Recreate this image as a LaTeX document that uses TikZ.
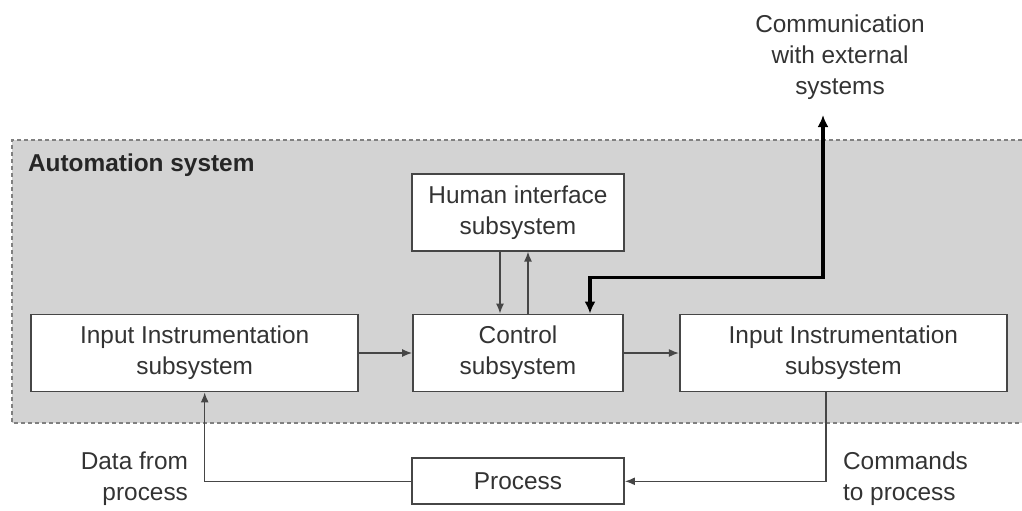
\documentclass[tikz,border=0pt]{standalone}
\usepackage{fontspec}
\setmainfont{Liberation Sans}
\usetikzlibrary{positioning,arrows.meta}
\definecolor{zonegray}{RGB}{211,211,211}
\definecolor{inkgray}{RGB}{70,70,70}
\tikzstyle{subsystem} = [draw=inkgray, fill=white, line width=0.9pt, rectangle, minimum height=38.5pt, align=center, text=black!80]
\tikzstyle{flow} = [draw=inkgray, line width=0.7pt, -{Latex[length=5pt,width=4pt]}]
\tikzstyle{bigflow} = [draw=black, line width=1.6pt, {Latex[length=6pt,width=5.5pt]}-{Latex[length=6pt,width=5.5pt]}]
\tikzstyle{outside} = [align=center, text=black!80]

\begin{document}
\begin{tikzpicture}[x=0.5pt, y=-0.5pt, font=\fontsize{12.2}{15.5}\selectfont]
	\useasboundingbox (0,0) rectangle (1022,510);
	% automation zone
	\fill[zonegray] (12,140) rectangle (1022,423);
	\draw[gray, line width=0.8pt, dash pattern=on 2pt off 1.5pt] (1022,140) -- (12,140) -- (12,423) -- (1022,423);
	\node[anchor=west, text=black!85, font=\fontsize{12.2}{15.5}\selectfont\bfseries] (zone) at (21,165) {Automation system};

	% subsystems
	\node[subsystem, minimum width=105pt] (ctrl) at (518,353) {Control\\subsystem};
	\node[subsystem, minimum width=163.5pt, left=26.5pt of ctrl] (inl) {Input Instrumentation\\subsystem};
	\node[subsystem, minimum width=163.5pt, right=27.5pt of ctrl] (inr) {Input Instrumentation\\subsystem};
	\node[subsystem, minimum width=106pt, above=31pt of ctrl] (hmi) {Human interface\\subsystem};
	\node[subsystem, minimum width=106pt, minimum height=23pt, below=32.5pt of ctrl] (proc) {Process};

	% outside texts
	\node[outside] (comm) at (840,57) {Communication\\with external\\systems};
	\node[outside, anchor=east, align=right] (data) at (195,479) {Data from\\process};
	\node[outside, anchor=west, align=left] (cmd) at (836,479) {Commands\\to process};
	\coordinate (ext) at (823,115);

	% connections
	\draw[flow] (inl) -- (ctrl);
	\draw[flow] (ctrl) -- (inr);
	\draw[flow] ([xshift=-9pt]hmi.south) -- ([xshift=-9pt]ctrl.north);
	\draw[flow] ([xshift=5pt]ctrl.north) -- ([xshift=5pt]hmi.south);
	\draw[bigflow] ([xshift=36pt]ctrl.north) -- ++(0,-36) -| (ext);
	\draw[flow] (proc.west) -| ([xshift=5pt]inl.south);
	\draw[flow] ([xshift=-8.75pt]inr.south) |- (proc.east);
\end{tikzpicture}
\end{document}
